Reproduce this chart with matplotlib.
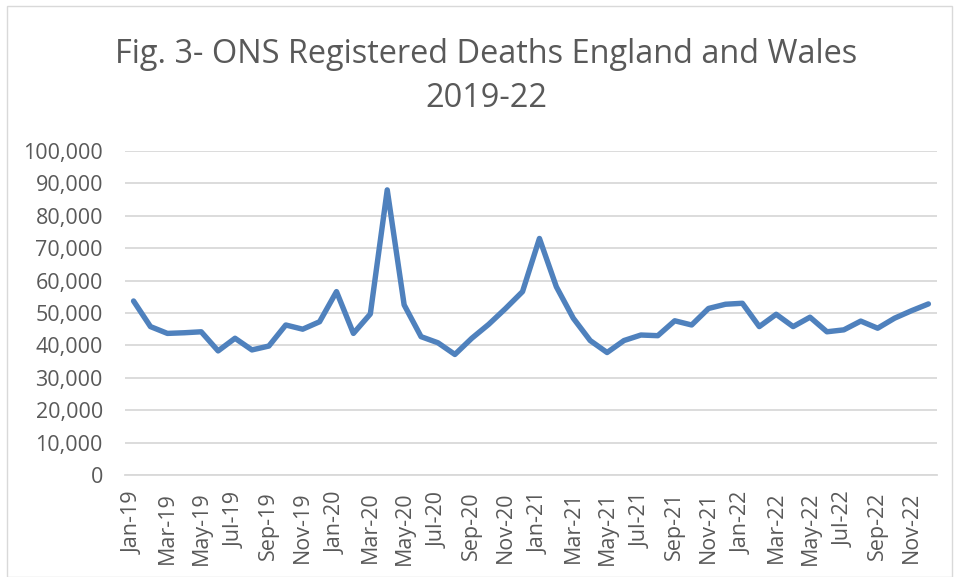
import matplotlib
matplotlib.use("Agg")
import matplotlib.pyplot as plt
from matplotlib.patches import Rectangle

months = ["Jan", "Feb", "Mar", "Apr", "May", "Jun", "Jul", "Aug", "Sep", "Oct", "Nov", "Dec"]
years = ["19", "20", "21", "22"]
categories = [f"{m}-{y}" for y in years for m in months]

deaths = [
    53700, 45800, 43700, 43900, 44200, 38300, 42200, 38600, 39800, 46300, 45000, 47300,
    56600, 43700, 49700, 88000, 52500, 42700, 40800, 37200, 42200, 46500, 51400, 56600,
    73000, 58100, 48400, 41500, 37800, 41500, 43200, 43000, 47600, 46300, 51400, 52700,
    53000, 45800, 49600, 45800, 48700, 44200, 44800, 47500, 45300, 48400, 50700, 52800,
]

title = "Fig. 3- ONS Registered Deaths England and Wales\n2019-22"
yticks = list(range(0, 100001, 10000))

plt.rcParams['font.family'] = ['Open Sans', 'DejaVu Sans']
fig = plt.figure(figsize=(9.55, 5.77), dpi=100)
ax = fig.add_axes([0.131, 0.1768, 0.850, 0.5615])

x = list(range(len(categories)))
ax.plot(x, deaths, color="#4F81BD", lw=3.9, solid_joinstyle="round", solid_capstyle="round")

ax.set_xlim(-0.5, len(categories) - 0.5)
ax.set_ylim(0, 100000)
ax.set_yticks(yticks)
ax.set_yticklabels([f"{v:,}" for v in yticks])
ax.yaxis.grid(True, color="#D9D9D9", lw=1.3)
ax.set_axisbelow(True)
ax.set_xticks(x[::2])
ax.set_xticklabels(categories[::2], rotation=90)
ax.tick_params(axis="both", length=0, labelsize=15.5, labelcolor="#595959")
ax.tick_params(axis="y", pad=16)
ax.tick_params(axis="x", pad=12)
for s in ["top", "right", "left"]:
    ax.spines[s].set_visible(False)
ax.spines["bottom"].set_color("#D9D9D9")
ax.spines["bottom"].set_linewidth(1.3)

fig.text(0.509, 0.934, title, ha="center", va="top", fontsize=23.4, color="#595959",
         linespacing=1.45)
fig.add_artist(Rectangle((0.007, 0.0), 0.99, 0.99, transform=fig.transFigure, fill=False,
                         edgecolor="#D9D9D9", lw=1.0))
fig.savefig("out.png", dpi=100)
